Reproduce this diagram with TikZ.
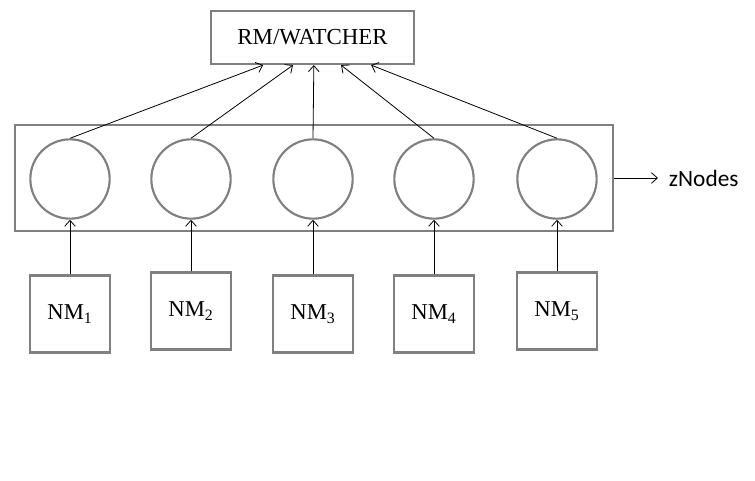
\documentclass[tikz,border=0pt]{standalone}
\usepackage{xcolor}
\usepackage{fontspec}
\setmainfont{Liberation Serif}
\newfontfamily\calibrifont{Carlito}
\usepackage{tikz}
\usetikzlibrary{positioning,arrows.meta}

\tikzset{
  graybox/.style={draw={rgb, 255:red, 128; green, 128; blue, 128 },line width=1.6pt,inner sep=0.75pt},
  zknode/.style={graybox,circle,minimum size=59.5pt},
  nmbox/.style={graybox,minimum width=60pt,minimum height=57.75pt,font=\fontsize{17}{20}\selectfont},
  link/.style={draw=black,line width=0.6pt,-{Straight Barb[length=4.5pt,width=8pt]}}
}

\begin{document}
\begin{tikzpicture}[x=0.75pt,y=0.75pt,yscale=-1,xscale=1]
\useasboundingbox (0,0) rectangle (755,480);

%Shape: Rectangle [id:rm]
        \node [graybox,minimum width=152.25pt,minimum height=39.75pt,font=\fontsize{17.2}{20}\selectfont] (rm) at (312.5,37.5) {RM/WATCHER};
%Shape: Rectangle [id:zk]
        \node [graybox,minimum width=448.5pt,minimum height=79.5pt] (zk) at (314,178) {};
%Shape: Circle [id:c1]
        \node [zknode] (c1) at (70,179) {};
%Shape: Circle [id:c2]
        \node [zknode] (c2) at (191,179) {};
%Shape: Circle [id:c3]
        \node [zknode] (c3) at (313,179) {};
%Shape: Circle [id:c4]
        \node [zknode] (c4) at (434,179) {};
%Shape: Circle [id:c5]
        \node [zknode] (c5) at (557,179) {};

%Shape: Rectangle [id:nm1]
        \node [nmbox] (nm1) at (70,314) {NM\textsubscript{1}};
%Shape: Rectangle [id:nm2]
        \node [nmbox] (nm2) at (191,311) {NM\textsubscript{2}};
%Shape: Rectangle [id:nm3]
        \node [nmbox] (nm3) at (313,314) {NM\textsubscript{3}};
%Shape: Rectangle [id:nm4]
        \node [nmbox] (nm4) at (434,314) {NM\textsubscript{4}};
%Shape: Rectangle [id:nm5]
        \node [nmbox] (nm5) at (557,311) {NM\textsubscript{5}};

% Text Node
        \node [anchor=west,inner xsep=8pt,inner ysep=0.75pt,font=\calibrifont\fontsize{17.5}{20}\selectfont] (lbl) at (658,178) {zNodes};

% Connection
        \draw [link] (nm1) -- (c1);
        \draw [link] (nm2) -- (c2);
        \draw [link] (nm3) -- (c3);
        \draw [link] (nm4) -- (c4);
        \draw [link] (nm5) -- (c5);
% Connection
        \draw [link] (c1.north) -- ([xshift=-37pt]rm.south);
        \draw [link] (c2.north) -- ([xshift=-14.6pt]rm.south);
        \draw [link] (c3.north) -- ([xshift=1pt]rm.south);
        \draw [link] (c4.north) -- ([xshift=21.4pt]rm.south);
        \draw [link] (c5.north) -- ([xshift=43.9pt]rm.south);
% Connection
        \draw [link] (zk) -- (lbl);

\end{tikzpicture}
\end{document}
